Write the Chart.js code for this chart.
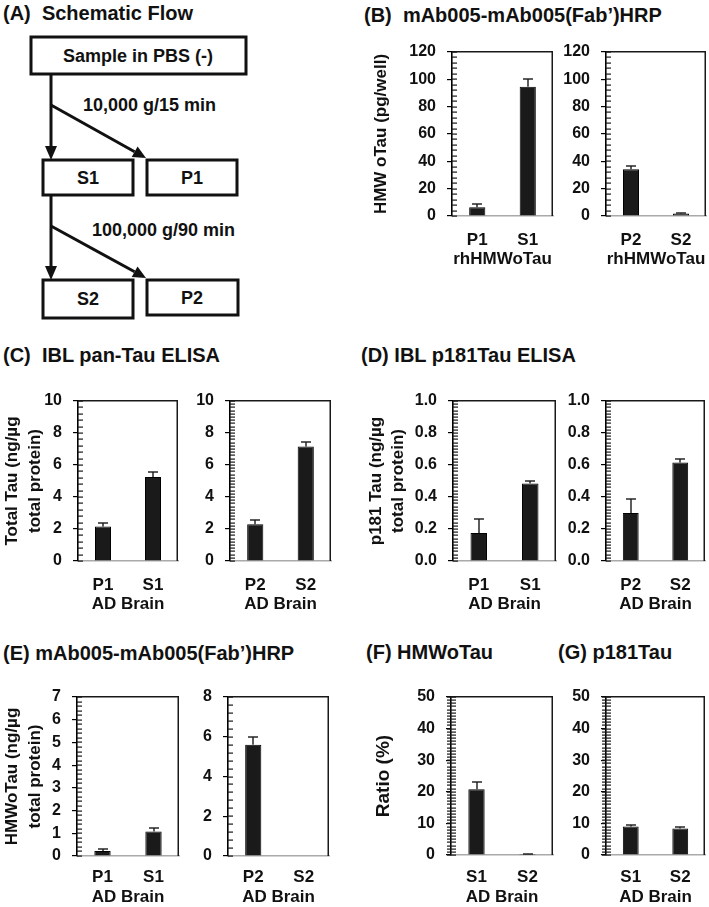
<!DOCTYPE html>
<html><head><meta charset="utf-8">
<script src="https://cdn.jsdelivr.net/npm/chart.js@4.4.1/dist/chart.umd.min.js"></script>
<style>
html,body{margin:0;padding:0;background:#fff;}
#fig{position:relative;width:709px;height:907px;overflow:hidden;font-family:'Liberation Sans',Arial,sans-serif;font-weight:bold;color:#111;background:#fff;}
.t{position:absolute;font-size:20px;white-space:pre;line-height:1;transform:translateY(-50%);}
canvas{position:absolute;}
svg{position:absolute;left:0;top:0;}
</style></head><body>
<div id="fig">
  <div class="t" style="left:3px;top:13px">(A)  Schematic Flow</div>
  <div class="t" style="left:364px;top:15px">(B)  mAb005-mAb005(Fab’)HRP</div>
  <div class="t" style="left:3px;top:355px">(C)  IBL pan-Tau ELISA</div>
  <div class="t" style="left:361px;top:355px">(D) IBL p181Tau ELISA</div>
  <div class="t" style="left:3px;top:653px">(E) mAb005-mAb005(Fab’)HRP</div>
  <div class="t" style="left:366px;top:652px">(F) HMWoTau</div>
  <div class="t" style="left:558px;top:652px">(G) p181Tau</div>
  <svg width="260" height="330" viewBox="0 0 260 330">
    <g fill="none" stroke="#111" stroke-width="3">
      <rect x="31" y="37" width="215" height="37"/>
      <rect x="43" y="160" width="90" height="35"/>
      <rect x="147" y="160" width="90" height="35"/>
      <rect x="43" y="280" width="90" height="38"/>
      <rect x="147" y="280" width="91" height="35"/>
      <line x1="51" y1="74" x2="51" y2="148"/>
      <line x1="51" y1="105" x2="134.6" y2="151.7"/>
      <line x1="51" y1="195" x2="51" y2="268"/>
      <line x1="51" y1="226" x2="134.6" y2="271.8"/>
    </g>
    <g fill="#111" stroke="none">
      <polygon points="51,160 45,146 57,146"/>
      <polygon points="146,158 131.7,156.9 137.6,146.4"/>
      <polygon points="51,280 45,266 57,266"/>
      <polygon points="146,278 131.7,277.0 137.5,266.5"/>
    </g>
    <g font-family="'Liberation Sans',Arial,sans-serif" font-weight="bold" fill="#111" font-size="18" dominant-baseline="central">
      <text x="138" y="56" text-anchor="middle">Sample in PBS (-)</text>
      <text x="88" y="178" text-anchor="middle">S1</text>
      <text x="192" y="178" text-anchor="middle">P1</text>
      <text x="88" y="299" text-anchor="middle">S2</text>
      <text x="192" y="298" text-anchor="middle">P2</text>
      <text x="83" y="105">10,000 g/15 min</text>
      <text x="92" y="230">100,000 g/90 min</text>
    </g>
  </svg>
</div>
<script>
// ---------- DATA ----------
const catsP1S1 = ['P1', 'S1'];
const catsP2S2 = ['P2', 'S2'];
const catsS1S2 = ['S1', 'S2'];

// (B) HMW oTau (pg/well), rhHMWoTau
const hmwPgP1S1 = [6.4, 94.6];
const hmwPgP1S1Err = [2.4, 5.4];
const hmwPgP2S2 = [34.2, 1.8];
const hmwPgP2S2Err = [2.6, 0.4];

// (C) Total Tau (ng/µg total protein)
const totalTauP1S1 = [2.15, 5.25];
const totalTauP1S1Err = [0.2, 0.32];
const totalTauP2S2 = [2.3, 7.15];
const totalTauP2S2Err = [0.27, 0.27];

// (D) p181 Tau (ng/µg total protein)
const p181P1S1 = [0.175, 0.485];
const p181P1S1Err = [0.085, 0.012];
const p181P2S2 = [0.3, 0.615];
const p181P2S2Err = [0.085, 0.02];

// (E) HMWoTau (ng/µg total protein)
const hmwNgP1S1 = [0.22, 1.08];
const hmwNgP1S1Err = [0.07, 0.15];
const hmwNgP2S2 = [5.6, 0];
const hmwNgP2S2Err = [0.37, 0];

// (F) HMWoTau ratio (%), (G) p181Tau ratio (%)
const ratioHmw = [20.8, 0.3];
const ratioHmwErr = [2.4, 0.1];
const ratioP181 = [9.0, 8.4];
const ratioP181Err = [0.4, 0.4];

// tick labels
const ticksB = ['0', '20', '40', '60', '80', '100', '120'];
const ticksC = ['0', '2', '4', '6', '8', '10'];
const ticksD = ['0.0', '0.2', '0.4', '0.6', '0.8', '1.0'];
const ticksE1 = ['0', '1', '2', '3', '4', '5', '6', '7'];
const ticksE2 = ['0', '2', '4', '6', '8'];
const ticksF = ['0', '10', '20', '30', '40', '50'];

// ---------- RENDERING ----------
const FONT = "'Liberation Sans', Arial, sans-serif";
const INK = '#111';
const PAD_T = 22;

function makeDeco(minor, err, cross) {
  return {
    id: 'deco',
    afterDraw(chart) {
      const ctx = chart.ctx;
      const y = chart.scales.y, x = chart.scales.x;
      const L = Math.round(y.right), R = Math.round(x.right), T = Math.round(y.top), B = Math.round(y.bottom);
      ctx.save();
      ctx.globalAlpha = 1;
      ctx.globalCompositeOperation = 'source-over';
      ctx.setLineDash([]);
      ctx.fillStyle = 'rgb(25,25,25)';
      // top & right frame
      ctx.fillRect(L, T - 1, R - L, 1.5);
      ctx.fillRect(R - 1.5, T - 1, 1.5, B - T + 1);
      // minor ticks
      const n = Math.round((y.max - y.min) / minor);
      for (let i = 0; i <= n; i++) {
        const py = Math.round(y.getPixelForValue(y.min + i * minor));
        const x0 = L - (cross ? 4 : 0);
        ctx.fillRect(x0, py - 0.5, L + 5 - x0, 1.2);
      }
      // error bars (upper half)
      const meta = chart.getDatasetMeta(0);
      const vals = chart.data.datasets[0].data;
      meta.data.forEach((bar, i) => {
        const e = err[i];
        if (!e) return;
        const yTop = Math.round(y.getPixelForValue(vals[i] + e));
        const bx = Math.round(bar.x);
        ctx.fillRect(bx - 0.7, yTop, 1.4, bar.y - yTop);
        ctx.fillRect(bx - 5, yTop - 0.7, 10, 1.4);
      });
      ctx.restore();
    }
  };
}

function makeChart(cfg) {
  const g = cfg.geom;
  const padR = g.padR != null ? g.padR : 6;
  const cv = document.createElement('canvas');
  const w = g.W + (g.right - g.axisX) + padR;
  const h = PAD_T + (g.bottom - g.top) + g.H;
  cv.width = w; cv.height = h;
  cv.style.width = w + 'px'; cv.style.height = h + 'px';
  cv.style.left = (g.axisX - g.W) + 'px';
  cv.style.top = (g.top - PAD_T) + 'px';
  document.getElementById('fig').appendChild(cv);
  const tickVals = cfg.ticks.map(Number);
  const yTitle = cfg.yTitle;
  new Chart(cv, {
    type: 'bar',
    data: {
      labels: cfg.cats,
      datasets: [{
        data: cfg.vals,
        backgroundColor: '#1a1a1a',
        borderColor: '#000',
        borderWidth: 1,
        barPercentage: 0.32,
        categoryPercentage: 1
      }]
    },
    options: {
      responsive: false,
      animation: false,
      events: [],
      layout: { padding: { top: PAD_T, right: padR, left: 0, bottom: 0 } },
      plugins: { legend: { display: false }, tooltip: { enabled: false } },
      scales: {
        x: {
          grid: { display: false, drawTicks: false },
          border: { display: true, color: '#aaa', width: 1.6 },
          ticks: { color: INK, padding: g.tickPad, font: { family: FONT, weight: 'bold', size: 17 } },
          title: { display: true, text: cfg.xTitle, color: INK,
                   padding: { top: 0, bottom: g.xTitlePad },
                   font: { family: FONT, weight: 'bold', size: 17, lineHeight: 1.2 } },
          afterFit: s => { s.height = g.H; }
        },
        y: {
          min: tickVals[0],
          max: tickVals[tickVals.length - 1],
          afterBuildTicks: s => { s.ticks = tickVals.map(v => ({ value: v })); },
          ticks: {
            color: INK, padding: 11, autoSkip: false,
            font: { family: FONT, weight: 'bold', size: 16 },
            callback: (v, i) => cfg.ticks[i]
          },
          grid: { display: true, drawOnChartArea: false, drawTicks: true, tickLength: 5, color: '#000', lineWidth: 1.2 },
          border: { display: true, color: '#000', width: 1.6 },
          title: yTitle ? {
            display: true, text: yTitle.text, color: INK,
            padding: { top: yTitle.pad, bottom: 0 },
            font: { family: FONT, weight: 'bold', size: yTitle.size || 17, lineHeight: yTitle.lh || 1.25 }
          } : { display: false },
          afterFit: s => { s.width = g.W; }
        }
      }
    },
    plugins: [makeDeco(cfg.minor, cfg.err, !!cfg.cross)]
  });
}

const rowB = { top: 52, bottom: 216, H: 60, tickPad: 14, xTitlePad: 6 };
const rowC = { top: 401, bottom: 561, H: 56, tickPad: 14, xTitlePad: 2 };
const rowE = { top: 697, bottom: 856, H: 52, tickPad: 11, xTitlePad: 0 };
const rowF = { top: 697, bottom: 855, H: 53, tickPad: 12, xTitlePad: 0 };

makeChart({ geom: Object.assign({ axisX: 452, right: 553, W: 100 }, rowB), cats: catsP1S1, vals: hmwPgP1S1, err: hmwPgP1S1Err,
  ticks: ticksB, minor: 4, xTitle: 'rhHMWoTau', yTitle: { text: 'HMW oTau (pg/well)', pad: 19, size: 17 } });
makeChart({ geom: Object.assign({ axisX: 606, right: 706, W: 48, padR: 3 }, rowB), cats: catsP2S2, vals: hmwPgP2S2, err: hmwPgP2S2Err,
  ticks: ticksB, minor: 4, xTitle: 'rhHMWoTau' });

makeChart({ geom: Object.assign({ axisX: 78, right: 178, W: 78 }, rowC), cats: catsP1S1, vals: totalTauP1S1, err: totalTauP1S1Err,
  ticks: ticksC, minor: 0.4, xTitle: 'AD Brain', yTitle: { text: ['Total Tau (ng/µg', 'total protein)'], pad: 1, lh: 1.35 } });
makeChart({ geom: Object.assign({ axisX: 230, right: 331, W: 48 }, rowC), cats: catsP2S2, vals: totalTauP2S2, err: totalTauP2S2Err,
  ticks: ticksC, minor: 0.2, xTitle: 'AD Brain' });

makeChart({ geom: Object.assign({ axisX: 453, right: 556, W: 100 }, rowC), cats: catsP1S1, vals: p181P1S1, err: p181P1S1Err,
  ticks: ticksD, minor: 0.02, xTitle: 'AD Brain', yTitle: { text: ['p181 Tau (ng/µg', 'total protein)'], pad: 13, lh: 1.25 } });
makeChart({ geom: Object.assign({ axisX: 606, right: 705, W: 48, padR: 4 }, rowC), cats: catsP2S2, vals: p181P2S2, err: p181P2S2Err,
  ticks: ticksD, minor: 0.02, xTitle: 'AD Brain' });

makeChart({ geom: Object.assign({ axisX: 77, right: 179, W: 77 }, rowE), cats: catsP1S1, vals: hmwNgP1S1, err: hmwNgP1S1Err,
  ticks: ticksE1, minor: 0.2, xTitle: 'AD Brain', yTitle: { text: ['HMWoTau (ng/µg', 'total protein)'], pad: 1, lh: 1.35 } });
makeChart({ geom: Object.assign({ axisX: 228, right: 329, W: 48 }, rowE), cats: catsP2S2, vals: hmwNgP2S2, err: hmwNgP2S2Err,
  ticks: ticksE2, minor: 0.4, xTitle: 'AD Brain' });

makeChart({ geom: Object.assign({ axisX: 451, right: 553, W: 97 }, rowF), cats: catsS1S2, vals: ratioHmw, err: ratioHmwErr,
  ticks: ticksF, minor: 1, cross: true, xTitle: 'AD Brain', yTitle: { text: 'Ratio (%)', pad: 18, size: 19, lh: 1.2 } });
makeChart({ geom: Object.assign({ axisX: 606, right: 705, W: 48, padR: 4 }, rowF), cats: catsS1S2, vals: ratioP181, err: ratioP181Err,
  ticks: ticksF, minor: 1, cross: true, xTitle: 'AD Brain' });
</script>
</body></html>
